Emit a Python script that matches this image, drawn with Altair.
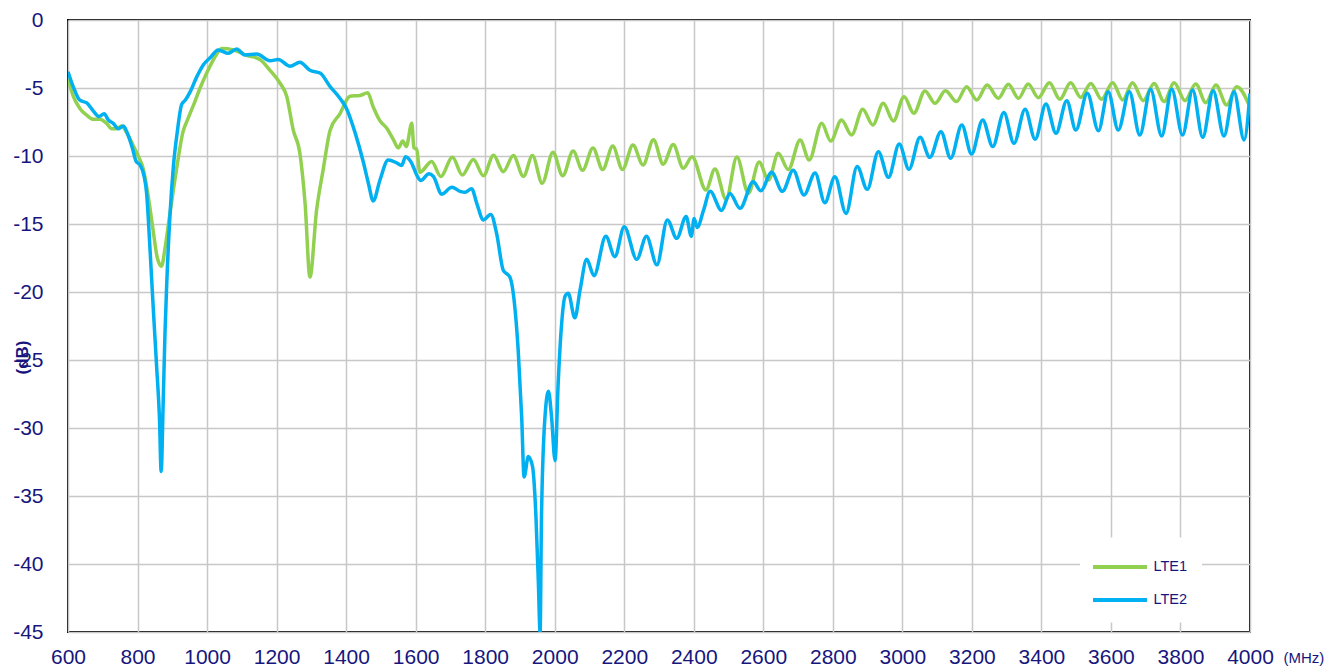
import altair as alt
import pandas as pd

# LTE1 (green) frequency (MHz) and return loss (dB)
lte1_freq = [600, 615, 634, 654, 673, 692, 711, 726, 740, 754, 769, 783, 802, 817, 831, 845, 857, 869,
             879, 889, 903, 915, 930, 946, 965, 980, 999, 1023, 1042, 1076, 1114, 1152, 1181, 1210,
             1229, 1248, 1267, 1282, 1296, 1315, 1334, 1354, 1382, 1411, 1440, 1462, 1478, 1497, 1517,
             1536, 1550, 1563, 1573, 1589, 1595, 1603, 1612, 1646, 1672, 1706, 1734, 1766, 1795, 1824,
             1852, 1881, 1910, 1936, 1964, 1995, 2023, 2053, 2080, 2110, 2138, 2167, 2195, 2225, 2254,
             2284, 2312, 2341, 2370, 2395, 2435, 2461, 2493, 2524, 2557, 2588, 2615, 2643, 2672, 2706,
             2732, 2768, 2794, 2825, 2854, 2886, 2915, 2945, 2974, 3005, 3033, 3065, 3094, 3124, 3156,
             3185, 3214, 3244, 3276, 3305, 3334, 3362, 3391, 3423, 3453, 3484, 3513, 3542, 3573, 3605,
             3634, 3662, 3693, 3724, 3753, 3782, 3813, 3844, 3873, 3902, 3933, 3962, 4000]
lte1_db = [-4.3, -5.6, -6.5, -7.0, -7.3, -7.3, -7.6, -8.0, -8.0, -7.8, -8.3, -9.0, -10.0, -11.0, -13.0,
           -15.5, -17.5, -18.1, -16.8, -15.0, -12.5, -10.5, -8.3, -7.2, -6.0, -5.0, -3.9, -2.7, -2.1,
           -2.2, -2.6, -2.9, -3.7, -4.65, -5.6, -8.1, -9.8, -13.5, -18.9, -14.0, -11.0, -8.1, -6.9,
           -5.6, -5.55, -5.35, -6.4, -7.4, -7.96, -8.8, -9.4, -8.9, -9.3, -7.6, -9.4, -9.5, -11.2,
           -10.4, -11.5, -10.1, -11.4, -10.25, -11.45, -9.95, -11.15, -9.97, -11.5, -9.97, -12.0,
           -9.72, -11.45, -9.64, -11.05, -9.42, -11.0, -9.27, -11.0, -9.19, -10.66, -8.81, -10.6,
           -9.16, -10.9, -10.05, -12.5, -10.95, -13.2, -10.07, -12.74, -10.45, -11.77, -9.8, -11.0,
           -8.82, -10.3, -7.6, -8.9, -7.35, -8.45, -6.57, -7.72, -6.13, -7.43, -5.64, -6.86, -5.22,
           -6.13, -5.2, -6.0, -4.9, -5.88, -4.78, -5.76, -4.73, -5.76, -4.7, -5.71, -4.61, -5.83,
           -4.61, -5.69, -4.66, -5.83, -4.61, -5.88, -4.61, -5.93, -4.66, -6.0, -4.61, -5.93, -4.7,
           -6.08, -4.78, -6.25, -4.9, -6.4]

# LTE2 (blue)
lte2_freq = [600, 615, 634, 654, 673, 689, 704, 716, 730, 745, 759, 772, 785, 796, 807, 819, 826, 836,
             845, 855, 863, 868, 874, 879, 884, 893, 903, 914, 927, 937, 951, 970, 989, 1008, 1032,
             1061, 1085, 1109, 1143, 1181, 1205, 1239, 1267, 1296, 1325, 1354, 1382, 1401, 1426, 1450,
             1464, 1478, 1497, 1521, 1545, 1560, 1571, 1587, 1605, 1615, 1638, 1651, 1675, 1704, 1728,
             1742, 1761, 1776, 1795, 1816, 1833, 1852, 1871, 1886, 1895, 1905, 1912, 1924, 1936, 1946,
             1953, 1958, 1962, 1972, 1982, 1991, 2001, 2010, 2020, 2030, 2039, 2058, 2073, 2092, 2113,
             2147, 2173, 2200, 2236, 2264, 2294, 2324, 2351, 2378, 2393, 2401, 2410, 2428, 2447, 2480,
             2504, 2533, 2571, 2593, 2624, 2655, 2686, 2717, 2749, 2777, 2806, 2838, 2870, 2899, 2931,
             2960, 2991, 3019, 3051, 3079, 3111, 3139, 3171, 3199, 3231, 3260, 3292, 3321, 3353, 3382,
             3413, 3442, 3473, 3499, 3532, 3564, 3592, 3621, 3653, 3683, 3714, 3746, 3775, 3806, 3835,
             3864, 3894, 3925, 3954, 3983, 4000]
lte2_db = [-3.8, -4.9, -5.9, -6.1, -6.7, -7.1, -6.9, -7.35, -7.6, -8.0, -7.8, -8.4, -9.4, -10.4, -10.66,
           -11.5, -12.7, -16.9, -21.1, -25.5, -29.2, -33.2, -27.9, -23.0, -19.4, -14.5, -10.8, -8.3,
           -6.2, -5.9, -5.3, -4.2, -3.3, -2.8, -2.2, -2.45, -2.13, -2.57, -2.5, -3.0, -2.9, -3.4, -3.1,
           -3.7, -3.9, -4.9, -5.75, -6.5, -8.3, -10.5, -12.0, -13.3, -11.8, -10.3, -10.5, -10.7, -10.05,
           -10.45, -11.5, -11.8, -11.3, -11.5, -12.8, -12.3, -12.6, -12.67, -12.4, -13.5, -14.7, -14.3,
           -15.7, -18.4, -18.9, -21.3, -24.3, -29.2, -33.6, -32.1, -32.8, -36.5, -41.4, -45.0, -36.5,
           -29.2, -27.3, -29.2, -32.4, -26.7, -22.3, -20.3, -20.1, -21.9, -19.85, -17.6, -18.8, -15.9,
           -17.4, -15.2, -17.6, -15.9, -18.0, -14.7, -16.05, -14.45, -15.9, -14.6, -15.25, -14.0,
           -12.6, -14.0, -12.75, -13.85, -11.9, -12.55, -11.2, -12.6, -11.05, -12.87, -11.25, -13.43,
           -11.52, -14.22, -10.78, -12.45, -9.68, -11.57, -9.12, -10.98, -8.63, -10.1, -8.21, -10.17,
           -7.72, -9.85, -7.35, -9.31, -6.81, -9.07, -6.57, -8.77, -6.18, -8.33, -5.93, -8.09, -5.39,
           -8.14, -5.27, -8.09, -5.27, -8.46, -5.1, -8.53, -5.1, -8.46, -5.15, -8.63, -5.2, -8.53,
           -5.27, -8.82, -5.4]

series_names = ["LTE1", "LTE2"]
series_colors = ["#92D050", "#00B0F0"]
x_ticks = list(range(600, 4001, 200))
y_ticks = list(range(0, -46, -5))

df = pd.concat([
    pd.DataFrame({"freq": lte1_freq, "db": lte1_db, "series": "LTE1"}),
    pd.DataFrame({"freq": lte2_freq, "db": lte2_db, "series": "LTE2"}),
], ignore_index=True)

navy = "#16167E"
font = "Liberation Sans"
hyphen_expr = "replace(datum.label, '\u2212', '-')"

chart = alt.Chart(df).mark_line(strokeWidth=3.5, interpolate="monotone", clip=True).encode(
    x=alt.X("freq:Q", scale=alt.Scale(domain=[600, 4000], nice=False, zero=False),
            axis=alt.Axis(values=x_ticks, format="d", labelFontSize=21, labelColor=navy, labelFont=font,
                          ticks=False, domain=False, grid=True, gridColor="#C8C8C8", gridWidth=1.5,
                          labelPadding=14, labelFlush=False, labelOverlap=False,
                          title="(MHz)", titleX=1215, titleY=25, titleAlign="left",
                          titleBaseline="middle", titleFontSize=15, titleFontWeight="normal",
                          titleColor=navy, titleFont=font)),
    y=alt.Y("db:Q", scale=alt.Scale(domain=[-45, 0], nice=False, zero=False),
            axis=alt.Axis(values=y_ticks, format="d", labelExpr=hyphen_expr, labelFontSize=21,
                          labelColor=navy, labelFont=font,
                          ticks=False, domain=False, grid=True, gridColor="#C8C8C8", gridWidth=1.5,
                          labelPadding=25, labelFlush=False, labelOverlap=False,
                          title="(dB)", titleX=-46, titleY=337, titleAngle=270, titleAlign="center",
                          titleBaseline="middle", titleFontSize=17, titleFontWeight="bold",
                          titleColor=navy, titleFont=font)),
    color=alt.Color("series:N", scale=alt.Scale(domain=series_names, range=series_colors),
                    legend=alt.Legend(orient="none", legendX=1012, legendY=517.5, title=None,
                                      symbolType="M-2,0H2", symbolSize=729, symbolStrokeWidth=4,
                                      symbolOffset=10.5, labelOffset=18,
                                      labelFontSize=14.5, labelColor=navy, labelFont=font,
                                      fillColor="white", padding=14, rowPadding=9)),
).properties(
    width=1182, height=612,
    autosize=alt.AutoSizeParams(type="none"),
    padding={"left": 60, "top": 12, "right": 80, "bottom": 35},
).configure_view(stroke="#000000", strokeWidth=2)

chart.save("out.html", embed_options={"renderer": "svg", "actions": False})
